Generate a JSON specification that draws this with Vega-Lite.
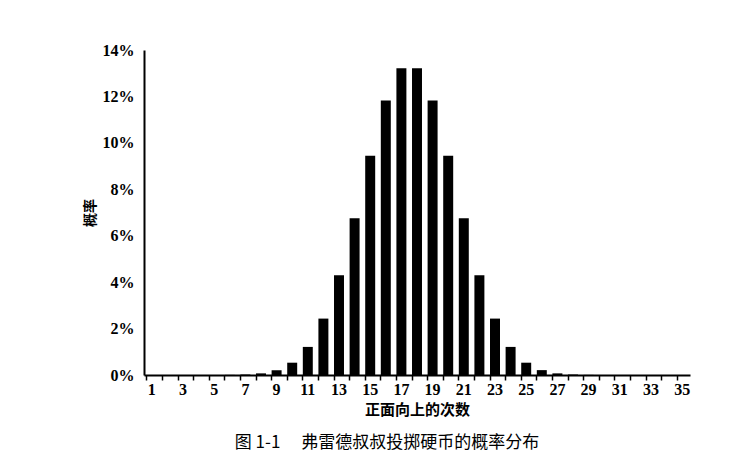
{
  "$schema": "https://vega.github.io/schema/vega-lite/v6.json",
  "description": "Binomial distribution of heads count",
  "autosize": "none",
  "padding": {"left": 144, "top": 50, "right": 48, "bottom": 89},
  "width": 546,
  "height": 325,
  "background": "white",
  "title": {
    "text": "图 1-1\u3000 弗雷德叔叔投掷硬币的概率分布",
    "orient": "bottom",
    "anchor": "middle",
    "dx": -30,
    "offset": 18,
    "font": "Noto Sans CJK SC",
    "fontSize": 17,
    "fontWeight": "normal",
    "color": "black"
  },
  "config": {
    "view": {"stroke": null},
    "axis": {
      "grid": false,
      "domainColor": "black",
      "domainWidth": 2,
      "tickColor": "black",
      "labelColor": "black",
      "titleColor": "black",
      "labelFont": "Liberation Serif",
      "labelFontWeight": "bold",
      "labelFontSize": 16,
      "titleFont": "Noto Sans CJK SC",
      "titleFontSize": 15,
      "titleFontWeight": "bold"
    }
  },
  "data": {
    "values": [
      {"k": 1, "p": 0.0}, {"k": 2, "p": 0.0}, {"k": 3, "p": 0.0},
      {"k": 4, "p": 0.0}, {"k": 5, "p": 0.00001}, {"k": 6, "p": 0.00005},
      {"k": 7, "p": 0.0002}, {"k": 8, "p": 0.0007}, {"k": 9, "p": 0.0021},
      {"k": 10, "p": 0.0053}, {"k": 11, "p": 0.0121}, {"k": 12, "p": 0.0243},
      {"k": 13, "p": 0.043}, {"k": 14, "p": 0.0675}, {"k": 15, "p": 0.0945},
      {"k": 16, "p": 0.1182}, {"k": 17, "p": 0.1321}, {"k": 18, "p": 0.1321},
      {"k": 19, "p": 0.1182}, {"k": 20, "p": 0.0945}, {"k": 21, "p": 0.0675},
      {"k": 22, "p": 0.043}, {"k": 23, "p": 0.0243}, {"k": 24, "p": 0.0121},
      {"k": 25, "p": 0.0053}, {"k": 26, "p": 0.0021}, {"k": 27, "p": 0.0007},
      {"k": 28, "p": 0.0002}, {"k": 29, "p": 0.00005}, {"k": 30, "p": 0.00001},
      {"k": 31, "p": 0.0}, {"k": 32, "p": 0.0}, {"k": 33, "p": 0.0},
      {"k": 34, "p": 0.0}, {"k": 35, "p": 0.0}
    ]
  },
  "mark": {"type": "bar", "color": "black"},
  "encoding": {
    "x": {
      "field": "k",
      "type": "ordinal",
      "title": "正面向上的次数",
      "scale": {"paddingInner": 0.36, "paddingOuter": 0.18},
      "axis": {
        "labelAngle": 0,
        "labelExpr": "datum.value % 2 == 1 ? datum.label : ''",
        "bandPosition": 0,
        "tickSize": 5,
        "tickWidth": 1.5,
        "labelPadding": 1,
        "titlePadding": 5
      }
    },
    "y": {
      "field": "p",
      "type": "quantitative",
      "title": "概率",
      "scale": {"domain": [0, 0.14]},
      "axis": {
        "format": ".0%",
        "values": [0, 0.02, 0.04, 0.06, 0.08, 0.1, 0.12, 0.14],
        "ticks": false,
        "labelPadding": 10,
        "titlePadding": 5,
        "titleFontSize": 14
      }
    }
  }
}
